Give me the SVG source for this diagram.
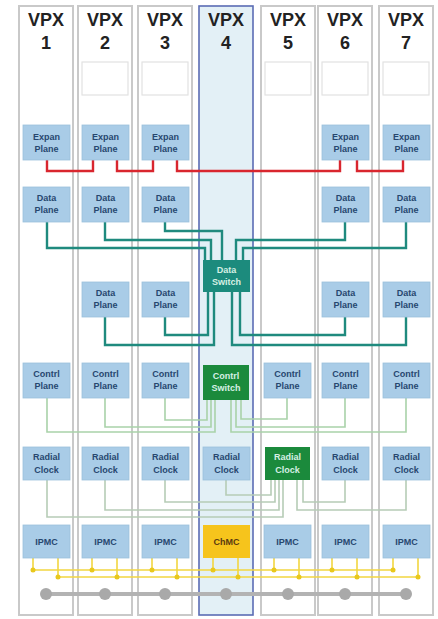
<svg xmlns="http://www.w3.org/2000/svg" width="438" height="619" viewBox="0 0 438 619">
<style>
.col{fill:#ffffff;stroke:#c9c9c9;stroke-width:2}
.col4{fill:#e3f0f6;stroke:#5a6cb4;stroke-width:1.6}
.slot{fill:#ffffff;stroke:#e2e2e2;stroke-width:1.2}
.title{font-family:"Liberation Sans",Arial,sans-serif;font-weight:bold;font-size:18px;fill:#222;text-anchor:middle}
.box{fill:#a9cce7;stroke:#9cc0dc;stroke-width:0.8}
.lbl{font-family:"Liberation Sans",Arial,sans-serif;font-weight:bold;font-size:9px;fill:#27476f;text-anchor:middle}
.dsw{fill:#1c8b7d}
.gsw{fill:#1b8a3c}
.wl{font-family:"Liberation Sans",Arial,sans-serif;font-weight:bold;font-size:9px;fill:#d6f0e4;text-anchor:middle}
.ch{fill:#f6c41c}
.red{fill:none;stroke:#d9262e;stroke-width:2.4}
.teal{fill:none;stroke:#1f8a7e;stroke-width:2.4}
.ctl{fill:none;stroke:#a9d2a9;stroke-width:1.6}
.clk{fill:none;stroke:#b6ccb6;stroke-width:1.6}
.ylw{fill:none;stroke:#f2d640;stroke-width:1.6}
.ydot{fill:#e9c81c}
.gbus{fill:none;stroke:#b3b3b3;stroke-width:4}
.gdot{fill:#a9a9a9}
</style>

<g id="slots">
<g id="vpx1"><rect class="col" x="19" y="6" width="54" height="609"/><text class="title" x="46" y="26">VPX</text><text class="title" x="46" y="49">1</text></g>
<g id="vpx2"><rect class="col" x="78" y="6" width="54" height="609"/><text class="title" x="105" y="26">VPX</text><text class="title" x="105" y="49">2</text><rect class="slot" x="82" y="62" width="46" height="33"/></g>
<g id="vpx3"><rect class="col" x="138" y="6" width="54" height="609"/><text class="title" x="165" y="26">VPX</text><text class="title" x="165" y="49">3</text><rect class="slot" x="142" y="62" width="46" height="33"/></g>
<g id="vpx4"><rect class="col4" x="199" y="6" width="54" height="609"/><text class="title" x="226" y="26">VPX</text><text class="title" x="226" y="49">4</text></g>
<g id="vpx5"><rect class="col" x="261" y="6" width="54" height="609"/><text class="title" x="288" y="26">VPX</text><text class="title" x="288" y="49">5</text><rect class="slot" x="265" y="62" width="46" height="33"/></g>
<g id="vpx6"><rect class="col" x="318" y="6" width="54" height="609"/><text class="title" x="345" y="26">VPX</text><text class="title" x="345" y="49">6</text><rect class="slot" x="322" y="62" width="46" height="33"/></g>
<g id="vpx7"><rect class="col" x="379" y="6" width="54" height="609"/><text class="title" x="406" y="26">VPX</text><text class="title" x="406" y="49">7</text><rect class="slot" x="383" y="62" width="46" height="33"/></g>
</g>

<g id="connectors">
<path class="red" d="M47,160 V171 H93 V160"/>
<path class="red" d="M117,160 V171 H153 V160"/>
<path class="red" d="M177,160 V171 H340 V160"/>
<path class="red" d="M357,160 V171 H403 V160"/>

<path class="teal" d="M47,222 V248 H205 V260"/>
<path class="teal" d="M105,222 V240 H211 V260"/>
<path class="teal" d="M165,222 V231 H222 V260"/>
<path class="teal" d="M345,222 V240 H236 V260"/>
<path class="teal" d="M406,222 V248 H243 V260"/>
<path class="teal" d="M165,317 V335 H208 V292"/>
<path class="teal" d="M105,317 V345 H214 V292"/>
<path class="teal" d="M345,317 V335 H240 V292"/>
<path class="teal" d="M406,317 V345 H232 V292"/>

<path class="ctl" d="M47,398 V432 H215 V400"/>
<path class="ctl" d="M105,398 V427 H211 V400"/>
<path class="ctl" d="M165,398 V420 H207 V400"/>
<path class="ctl" d="M287,398 V419 H241 V400"/>
<path class="ctl" d="M345,398 V427 H236 V400"/>
<path class="ctl" d="M406,398 V432 H231 V400"/>

<path class="clk" d="M47,480 V517 H283 V480"/>
<path class="clk" d="M105,480 V510 H279 V480"/>
<path class="clk" d="M165,480 V502 H275 V480"/>
<path class="clk" d="M226,480 V495 H271 V480"/>
<path class="clk" d="M345,480 V502 H303 V480"/>
<path class="clk" d="M406,480 V510 H297 V480"/>

<path class="ylw" d="M33,570 H394 M58,577 H419"/>
<path class="ylw" d="M33,558 V570 M58,558 V577 M92,558 V570 M117,558 V577 M152,558 V570 M177,558 V577 M213,558 V570 M238,558 V577 M274,558 V570 M299,558 V577 M332,558 V570 M357,558 V577 M393,558 V570 M418,558 V577"/>
<g class="ydot">
<circle cx="33" cy="570" r="2.5"/><circle cx="58" cy="577" r="2.5"/>
<circle cx="92" cy="570" r="2.5"/><circle cx="117" cy="577" r="2.5"/>
<circle cx="152" cy="570" r="2.5"/><circle cx="177" cy="577" r="2.5"/>
<circle cx="213" cy="570" r="2.5"/><circle cx="238" cy="577" r="2.5"/>
<circle cx="274" cy="570" r="2.5"/><circle cx="299" cy="577" r="2.5"/>
<circle cx="332" cy="570" r="2.5"/><circle cx="357" cy="577" r="2.5"/>
<circle cx="393" cy="570" r="2.5"/><circle cx="418" cy="577" r="2.5"/>
</g>
<path class="gbus" d="M46,594 H406"/>
<g class="gdot">
<circle cx="46" cy="594" r="6"/><circle cx="105" cy="594" r="6"/><circle cx="165" cy="594" r="6"/><circle cx="226" cy="594" r="6"/><circle cx="288" cy="594" r="6"/><circle cx="345" cy="594" r="6"/><circle cx="406" cy="594" r="6"/>
</g>
</g>

<g id="expan1"><rect class="box" x="23" y="125" width="47" height="35"/><text class="lbl" x="46.5" y="139.5">Expan</text><text class="lbl" x="46.5" y="151.5">Plane</text></g>
<g id="expan2"><rect class="box" x="82" y="125" width="47" height="35"/><text class="lbl" x="105.5" y="139.5">Expan</text><text class="lbl" x="105.5" y="151.5">Plane</text></g>
<g id="expan3"><rect class="box" x="142" y="125" width="47" height="35"/><text class="lbl" x="165.5" y="139.5">Expan</text><text class="lbl" x="165.5" y="151.5">Plane</text></g>
<g id="expan6"><rect class="box" x="322" y="125" width="47" height="35"/><text class="lbl" x="345.5" y="139.5">Expan</text><text class="lbl" x="345.5" y="151.5">Plane</text></g>
<g id="expan7"><rect class="box" x="383" y="125" width="47" height="35"/><text class="lbl" x="406.5" y="139.5">Expan</text><text class="lbl" x="406.5" y="151.5">Plane</text></g>

<g id="data1a"><rect class="box" x="23" y="187" width="47" height="35"/><text class="lbl" x="46.5" y="200.5">Data</text><text class="lbl" x="46.5" y="213">Plane</text></g>
<g id="data2a"><rect class="box" x="82" y="187" width="47" height="35"/><text class="lbl" x="105.5" y="200.5">Data</text><text class="lbl" x="105.5" y="213">Plane</text></g>
<g id="data3a"><rect class="box" x="142" y="187" width="47" height="35"/><text class="lbl" x="165.5" y="200.5">Data</text><text class="lbl" x="165.5" y="213">Plane</text></g>
<g id="data6a"><rect class="box" x="322" y="187" width="47" height="35"/><text class="lbl" x="345.5" y="200.5">Data</text><text class="lbl" x="345.5" y="213">Plane</text></g>
<g id="data7a"><rect class="box" x="383" y="187" width="47" height="35"/><text class="lbl" x="406.5" y="200.5">Data</text><text class="lbl" x="406.5" y="213">Plane</text></g>

<g id="dataswitch"><rect class="dsw" x="203" y="260" width="47" height="32"/><text class="wl" x="226.5" y="273">Data</text><text class="wl" x="226.5" y="285">Switch</text></g>

<g id="data2b"><rect class="box" x="82" y="282" width="47" height="35"/><text class="lbl" x="105.5" y="295.5">Data</text><text class="lbl" x="105.5" y="308">Plane</text></g>
<g id="data3b"><rect class="box" x="142" y="282" width="47" height="35"/><text class="lbl" x="165.5" y="295.5">Data</text><text class="lbl" x="165.5" y="308">Plane</text></g>
<g id="data6b"><rect class="box" x="322" y="282" width="47" height="35"/><text class="lbl" x="345.5" y="295.5">Data</text><text class="lbl" x="345.5" y="308">Plane</text></g>
<g id="data7b"><rect class="box" x="383" y="282" width="47" height="35"/><text class="lbl" x="406.5" y="295.5">Data</text><text class="lbl" x="406.5" y="308">Plane</text></g>

<g id="ctl1"><rect class="box" x="23" y="363" width="47" height="35"/><text class="lbl" x="46.5" y="376.5">Contrl</text><text class="lbl" x="46.5" y="389">Plane</text></g>
<g id="ctl2"><rect class="box" x="82" y="363" width="47" height="35"/><text class="lbl" x="105.5" y="376.5">Contrl</text><text class="lbl" x="105.5" y="389">Plane</text></g>
<g id="ctl3"><rect class="box" x="142" y="363" width="47" height="35"/><text class="lbl" x="165.5" y="376.5">Contrl</text><text class="lbl" x="165.5" y="389">Plane</text></g>
<g id="ctlswitch"><rect class="gsw" x="203" y="365" width="46" height="35"/><text class="wl" x="226" y="378.5">Contrl</text><text class="wl" x="226" y="391">Switch</text></g>
<g id="ctl5"><rect class="box" x="264" y="363" width="47" height="35"/><text class="lbl" x="287.5" y="376.5">Contrl</text><text class="lbl" x="287.5" y="389">Plane</text></g>
<g id="ctl6"><rect class="box" x="322" y="363" width="47" height="35"/><text class="lbl" x="345.5" y="376.5">Contrl</text><text class="lbl" x="345.5" y="389">Plane</text></g>
<g id="ctl7"><rect class="box" x="383" y="363" width="47" height="35"/><text class="lbl" x="406.5" y="376.5">Contrl</text><text class="lbl" x="406.5" y="389">Plane</text></g>

<g id="clk1"><rect class="box" x="23" y="447" width="47" height="33"/><text class="lbl" x="46.5" y="460">Radial</text><text class="lbl" x="46.5" y="472.5">Clock</text></g>
<g id="clk2"><rect class="box" x="82" y="447" width="47" height="33"/><text class="lbl" x="105.5" y="460">Radial</text><text class="lbl" x="105.5" y="472.5">Clock</text></g>
<g id="clk3"><rect class="box" x="142" y="447" width="47" height="33"/><text class="lbl" x="165.5" y="460">Radial</text><text class="lbl" x="165.5" y="472.5">Clock</text></g>
<g id="clk4"><rect class="box" x="203" y="447" width="47" height="33"/><text class="lbl" x="226.5" y="460">Radial</text><text class="lbl" x="226.5" y="472.5">Clock</text></g>
<g id="clk5"><rect class="gsw" x="265" y="447" width="45" height="33"/><text class="wl" x="287.5" y="460">Radial</text><text class="wl" x="287.5" y="472.5">Clock</text></g>
<g id="clk6"><rect class="box" x="322" y="447" width="47" height="33"/><text class="lbl" x="345.5" y="460">Radial</text><text class="lbl" x="345.5" y="472.5">Clock</text></g>
<g id="clk7"><rect class="box" x="383" y="447" width="47" height="33"/><text class="lbl" x="406.5" y="460">Radial</text><text class="lbl" x="406.5" y="472.5">Clock</text></g>

<g id="ipmc1"><rect class="box" x="23" y="525" width="47" height="33"/><text class="lbl" x="46.5" y="544.5">IPMC</text></g>
<g id="ipmc2"><rect class="box" x="82" y="525" width="47" height="33"/><text class="lbl" x="105.5" y="544.5">IPMC</text></g>
<g id="ipmc3"><rect class="box" x="142" y="525" width="47" height="33"/><text class="lbl" x="165.5" y="544.5">IPMC</text></g>
<g id="chmc4"><rect class="ch" x="203" y="525" width="47" height="33"/><text class="lbl" x="226.5" y="544.5" style="fill:#5a3a10">ChMC</text></g>
<g id="ipmc5"><rect class="box" x="264" y="525" width="47" height="33"/><text class="lbl" x="287.5" y="544.5">IPMC</text></g>
<g id="ipmc6"><rect class="box" x="322" y="525" width="47" height="33"/><text class="lbl" x="345.5" y="544.5">IPMC</text></g>
<g id="ipmc7"><rect class="box" x="383" y="525" width="47" height="33"/><text class="lbl" x="406.5" y="544.5">IPMC</text></g>
</svg>
